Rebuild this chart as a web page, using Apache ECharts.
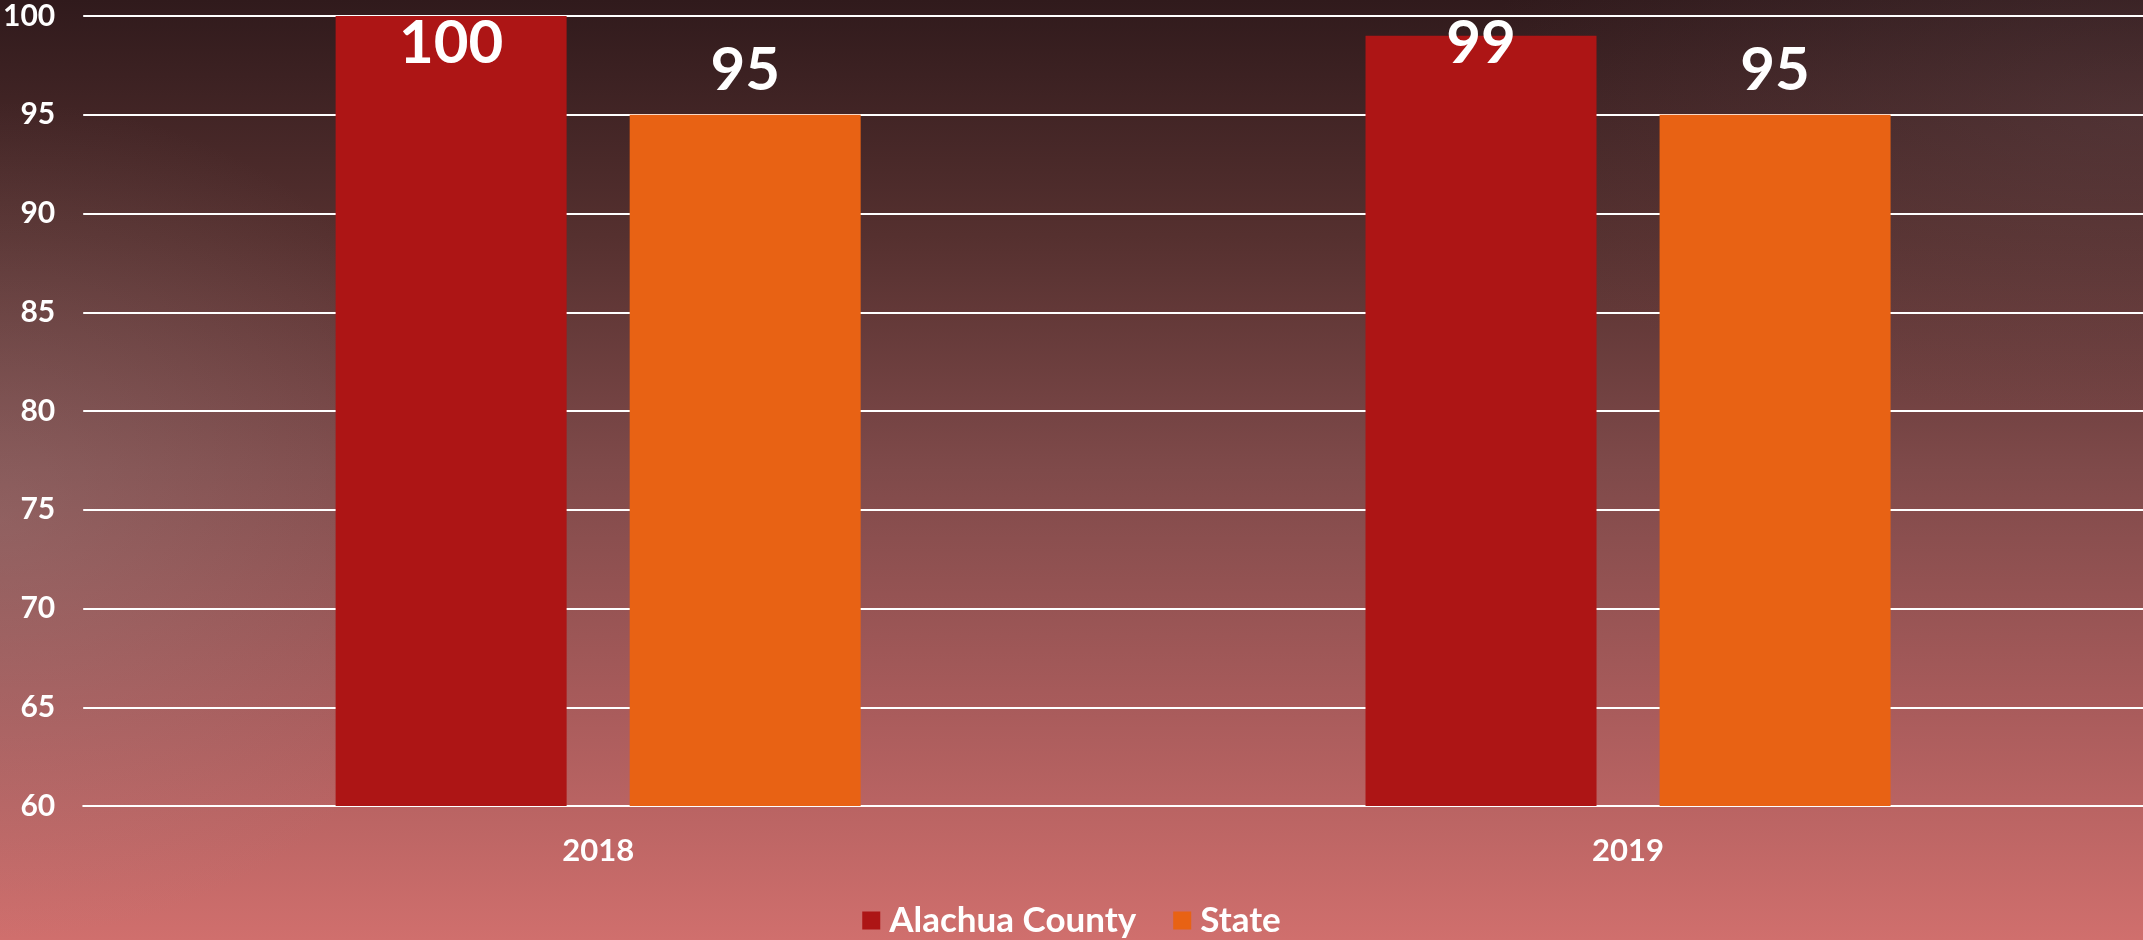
<!DOCTYPE html>
<html lang="en">
<head>
    <meta charset="UTF-8">
    <title>Alachua County vs State</title>
    <script src="https://cdn.jsdelivr.net/npm/echarts@6/dist/echarts.min.js"></script>
    <style>
        html, body { margin: 0; padding: 0; width: 100%; height: 100%; overflow: hidden; }
        body {
            background:
                radial-gradient(ellipse 480px 420px at 0px 520px, rgba(165,140,140,0.3), rgba(165,140,140,0) 100%),
                radial-gradient(ellipse 700px 300px at 2143px 120px, rgba(120,90,95,0.25), rgba(120,90,95,0) 100%),
                linear-gradient(to bottom, #301a1c 0%, #55302f 25%, #7f4a4a 50%, #a85b5b 75%, #d06f6d 100%);
        }
        #chart { width: 2143px; height: 940px; }
    </style>
</head>
<body>
<div id="chart"></div>
<script>
const years = ['2018', '2019'];
const county = [100, 99];
const state = [95, 95];
const yTicks = [60, 100, 5];

const font = "'Century Gothic', Lato, 'Open Sans', sans-serif";
const chart = echarts.init(document.getElementById('chart'));

const barLabel = {
    show: true,
    position: 'top',
    distance: 14,
    color: '#fff',
    fontSize: 60,
    fontWeight: 'bold',
    fontFamily: font
};

chart.setOption({
    backgroundColor: 'transparent',
    textStyle: { fontFamily: font },
    grid: { left: 79, right: 0, top: 16, bottom: 134, containLabel: false },
    legend: {
        top: 898,
        left: 'center',
        itemWidth: 18,
        itemHeight: 18,
        itemGap: 37,
        icon: 'rect',
        textStyle: { color: '#fff', fontSize: 35, fontWeight: 'bold', fontFamily: font, padding: [0, 0, 0, 4] },
        data: ['Alachua County', 'State']
    },
    xAxis: {
        type: 'category',
        data: years,
        axisLine: { lineStyle: { color: '#fff', width: 2 } },
        axisTick: { show: false },
        axisLabel: { color: '#fff', fontSize: 31, fontWeight: 'bold', margin: 29, fontFamily: font }
    },
    yAxis: {
        type: 'value',
        min: yTicks[0],
        max: yTicks[1],
        interval: yTicks[2],
        axisLine: { show: false },
        axisTick: { show: false },
        axisLabel: { color: '#fff', fontSize: 30, fontWeight: 'bold', margin: 28, fontFamily: font },
        splitLine: { lineStyle: { color: '#fff', width: 2 } }
    },
    // keep value labels inside the plot, as the original does
    labelLayout: function (p) {
        const r = p.labelRect;
        const cx = r.x + r.width / 2;
        const cy = r.y + r.height / 2;
        return { x: cx, y: Math.max(cy, 44), align: 'center', verticalAlign: 'middle' };
    },
    series: [
        { name: 'Alachua County', type: 'bar', data: county, barWidth: 231, barGap: '27.3%',
          itemStyle: { color: '#ad1515' }, label: barLabel },
        { name: 'State', type: 'bar', data: state, barWidth: 231,
          itemStyle: { color: '#e86214' }, label: barLabel }
    ]
});
</script>
</body>
</html>
